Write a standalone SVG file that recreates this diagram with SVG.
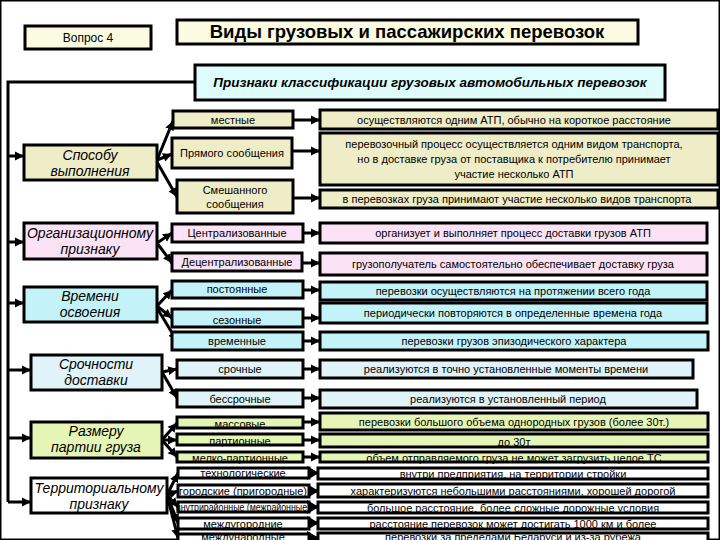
<svg xmlns="http://www.w3.org/2000/svg" width="720" height="540" viewBox="0 0 720 540">
<style>
rect{stroke:#000;stroke-width:3}
text{font-family:"Liberation Sans",Arial,sans-serif;fill:#000;text-anchor:middle}
.cat{font-size:14px;font-style:italic}
.sub{font-size:11px}
.dsc{font-size:11px}
.cr{fill:#fbfbe1}
.kh{fill:#efedc8}
.pk{fill:#fbe3f5}
.cy{fill:#c3f3f8}
.lb{fill:#dff3f8}
.gr{fill:#e5f5b6}
.wh{fill:#fff}
.ln{fill:none;stroke:#000;stroke-width:3}
.ar{fill:none;stroke:#000;stroke-width:3;marker-end:url(#ah)}
.ab{fill:none;stroke:#000;stroke-width:3;marker-end:url(#ab)}
</style>
<defs>
<marker id="ah" markerUnits="userSpaceOnUse" markerWidth="10" markerHeight="10" refX="9" refY="5" orient="auto"><path d="M0,0.5 L9,5 L0,9.5 z" fill="#000"/></marker>
<marker id="ab" markerUnits="userSpaceOnUse" markerWidth="14" markerHeight="14" refX="12" refY="7" orient="auto"><path d="M0,0 L12,7 L0,14 z" fill="#000"/></marker>
</defs>
<rect width="720" height="540" fill="#fff" stroke="none"/>

<g id="connectors">
<path class="ln" d="M195,82 H8 V502"/>
<path class="ar" d="M8,156 H24"/>
<path class="ar" d="M8,242 H24"/>
<path class="ar" d="M8,303 H24"/>
<path class="ar" d="M8,370 H31"/>
<path class="ar" d="M8,438 H31"/>
<path class="ar" d="M8,502 H31"/>
<path class="ar" d="M157,160 L173,121"/>
<path class="ar" d="M157,160 L172,154"/>
<path class="ar" d="M157,162 L177,197"/>
<path class="ar" d="M157,243 L172,233"/>
<path class="ar" d="M157,243 L172,263"/>
<path class="ar" d="M157,306 L172,290"/>
<path class="ar" d="M157,306 L172,318"/>
<path class="ar" d="M157,308 L177,341"/>
<path class="ar" d="M162,372 L177,369"/>
<path class="ar" d="M162,372 L177,398"/>
<path class="ar" d="M162,440 L177,423"/>
<path class="ar" d="M162,440 L177,440"/>
<path class="ar" d="M162,440 L177,457"/>
<path class="ar" d="M167,495 L178,473"/>
<path class="ar" d="M167,495 L178,491"/>
<path class="ar" d="M167,495 L178,507"/>
<path class="ar" d="M167,495 L178,523"/>
<path class="ar" d="M167,495 L178,538"/>
<path class="ar" d="M293,120 H320"/>
<path class="ar" d="M292,151 H320"/>
<path class="ar" d="M293,198 H320"/>
<path class="ar" d="M303,233 H320"/>
<path class="ar" d="M302,263 H320"/>
<path class="ar" d="M303,290 H320"/>
<path class="ar" d="M303,318 H320"/>
<path class="ar" d="M303,341 H320"/>
<path class="ar" d="M303,369 H320"/>
<path class="ar" d="M303,398 H320"/>
<path class="ar" d="M303,422 H320"/>
<path class="ar" d="M303,440 H320"/>
<path class="ar" d="M303,457 H320"/>
<path class="ab" d="M309,473 H319"/>
<path class="ab" d="M309,491 H319"/>
<path class="ab" d="M309,507 H319"/>
<path class="ab" d="M309,523 H319"/>
<path class="ab" d="M309,538 H319"/>
</g>

<g id="q4"><rect class="cr" x="25" y="26" width="126" height="23"/><text x="88" y="42" font-size="12">Вопрос 4</text></g>
<g id="title"><rect class="cr" x="177" y="20" width="461" height="24"/><text x="407" y="38" font-size="18.5" font-weight="bold">Виды грузовых  и пассажирских перевозок</text></g>
<g id="priznaki"><rect fill="#dffcfc" x="195" y="65" width="470" height="35"/><text x="430" y="87" font-size="13.5" font-weight="bold" font-style="italic">Признаки классификации грузовых  автомобильных перевозок</text></g>

<g id="sposob"><rect class="kh" x="24" y="145" width="133" height="35"/><text class="cat" x="90" y="160">Способу</text><text class="cat" x="90" y="176">выполнения</text></g>
<g id="mestnye"><rect class="kh" x="173" y="111" width="120" height="17"/><text class="sub" x="233" y="124">местные</text></g>
<g id="pryamogo"><rect class="kh" x="172" y="138" width="120" height="30"/><text class="sub" x="232" y="157">Прямого сообщения</text></g>
<g id="smesh"><rect class="kh" x="177" y="180" width="116" height="33"/><text class="sub" x="235" y="194">Смешанного</text><text class="sub" x="235" y="208">сообщения</text></g>
<g id="d-mestnye"><rect class="kh" x="320" y="110" width="398" height="19"/><text class="dsc" x="514" y="124">осуществляются одним АТП, обычно на короткое расстояние</text></g>
<g id="d-pryamogo"><rect class="kh" x="320" y="133" width="398" height="52"/><text class="dsc" x="514" y="148">перевозочный процесс осуществляется одним видом транспорта,</text><text class="dsc" x="514" y="163">но в доставке груза от поставщика к потребителю принимает</text><text class="dsc" x="514" y="178">участие несколько АТП</text></g>
<g id="d-smesh"><rect class="kh" x="320" y="190" width="398" height="18"/><text class="dsc" x="517" y="203">в перевозках груза принимают участие несколько видов транспорта</text></g>

<g id="org"><rect class="pk" x="24" y="223" width="133" height="36"/><text class="cat" x="90" y="238">Организационному</text><text class="cat" x="90" y="254">признаку</text></g>
<g id="central"><rect class="pk" x="172" y="224" width="131" height="18"/><text class="sub" x="237" y="237">Централизованные</text></g>
<g id="decentral"><rect class="pk" x="172" y="253" width="130" height="18"/><text class="sub" x="237" y="266">Децентрализованные</text></g>
<g id="d-central"><rect class="pk" x="320" y="223" width="387" height="20"/><text class="dsc" x="513" y="237">организует и выполняет процесс доставки грузов АТП</text></g>
<g id="d-decentral"><rect class="pk" x="320" y="253" width="387" height="22"/><text class="dsc" x="513" y="268">грузополучатель самостоятельно обеспечивает доставку груза</text></g>

<g id="vremeni"><rect class="cy" x="24" y="287" width="133" height="35"/><text class="cat" x="90" y="301">Времени</text><text class="cat" x="90" y="317">освоения</text></g>
<g id="post"><rect class="cy" x="172" y="281" width="131" height="17"/><text class="sub" x="237" y="293">постоянные</text></g>
<g id="sezon"><rect class="cy" x="172" y="309" width="131" height="18"/><text class="sub" x="237" y="324">сезонные</text></g>
<g id="vrem"><rect class="cy" x="172" y="332" width="131" height="18"/><text class="sub" x="237" y="345">временные</text></g>
<g id="d-post"><rect class="cy" x="320" y="282" width="387" height="18"/><text class="dsc" x="513" y="295">перевозки осуществляются на протяжении всего года</text></g>
<g id="d-sezon"><rect class="cy" x="320" y="303" width="387" height="20"/><text class="dsc" x="513" y="317">периодически повторяются в определенные времена года</text></g>
<g id="d-vrem"><rect class="cy" x="320" y="332" width="388" height="18"/><text class="dsc" x="514" y="345">перевозки грузов эпизодического характера</text></g>

<g id="srochn"><rect class="lb" x="31" y="355" width="131" height="35"/><text class="cat" x="96" y="369">Срочности</text><text class="cat" x="96" y="385">доставки</text></g>
<g id="sroch"><rect class="lb" x="177" y="360" width="126" height="18"/><text class="sub" x="240" y="373">срочные</text></g>
<g id="bessroch"><rect class="lb" x="177" y="390" width="126" height="17"/><text class="sub" x="240" y="403">бессрочные</text></g>
<g id="d-sroch"><rect class="lb" x="320" y="360" width="373" height="18"/><text class="dsc" x="506" y="373">реализуются в точно установленные моменты времени</text></g>
<g id="d-bessroch"><rect class="lb" x="320" y="390" width="377" height="18"/><text class="dsc" x="508" y="403">реализуются в установленный период</text></g>

<g id="razmer"><rect class="gr" x="31" y="422" width="131" height="36"/><text class="cat" x="96" y="436">Размеру</text><text class="cat" x="96" y="452">партии груза</text></g>
<g id="massov"><rect class="gr" x="177" y="417" width="126" height="11"/><text class="sub" x="240" y="428">массовые</text></g>
<g id="partion"><rect class="gr" x="177" y="434" width="126" height="11"/><text class="sub" x="240" y="445">партионные</text></g>
<g id="melko"><rect class="gr" x="177" y="452" width="126" height="10"/><text class="sub" x="240" y="462">мелко-партионные</text></g>
<g id="d-massov"><rect class="gr" x="320" y="413" width="388" height="17"/><text class="dsc" x="514" y="426">перевозки большого объема однородных грузов (более 30т.)</text></g>
<g id="d-partion"><rect class="gr" x="320" y="434" width="388" height="13"/><text class="dsc" x="514" y="446">до 30т</text></g>
<g id="d-melko"><rect class="gr" x="320" y="452" width="388" height="10"/><text class="dsc" x="514" y="462">объем отправляемого груза не может загрузить целое ТС</text></g>

<g id="territ"><rect class="wh" x="31" y="478" width="136" height="35"/><text class="cat" x="99" y="493">Территориальному</text><text class="cat" x="99" y="509">признаку</text></g>
<g id="tehn"><rect class="wh" x="178" y="468" width="131" height="10"/><text class="sub" x="243" y="477">технологические</text></g>
<g id="gorod"><rect class="wh" x="178" y="485" width="131" height="12"/><text class="sub" x="243" y="495" font-size="9.5">городские (пригородные)</text></g>
<g id="vnutri"><rect class="wh" x="178" y="502" width="131" height="10"/><text class="sub" x="243" y="511" font-size="9.5" textLength="134" lengthAdjust="spacingAndGlyphs">внутрирайонные (межрайонные)</text></g>
<g id="mezhgor"><rect class="wh" x="178" y="518" width="131" height="11"/><text class="sub" x="243" y="528">междугородние</text></g>
<g id="mezhdun"><rect class="wh" x="178" y="534" width="131" height="12"/><text class="sub" x="243" y="541">международные</text></g>
<g id="d-tehn"><rect class="wh" x="318" y="468" width="390" height="11"/><text class="dsc" x="513" y="478">внутри предприятия, на территории стройки</text></g>
<g id="d-gorod"><rect class="wh" x="318" y="484" width="390" height="13"/><text class="dsc" x="513" y="495">характеризуются небольшими расстояниями, хорошей дорогой</text></g>
<g id="d-vnutri"><rect class="wh" x="318" y="502" width="390" height="11"/><text class="dsc" x="513" y="512">большое расстояние, более сложные дорожные условия</text></g>
<g id="d-mezhgor"><rect class="wh" x="318" y="518" width="390" height="11"/><text class="dsc" x="513" y="528">расстояние перевозок может достигать 1000 км и более</text></g>
<g id="d-mezhdun"><rect class="wh" x="318" y="533" width="390" height="12"/><text class="dsc" x="513" y="541">перевозки за пределами Беларуси и из-за рубежа</text></g>
</svg>
